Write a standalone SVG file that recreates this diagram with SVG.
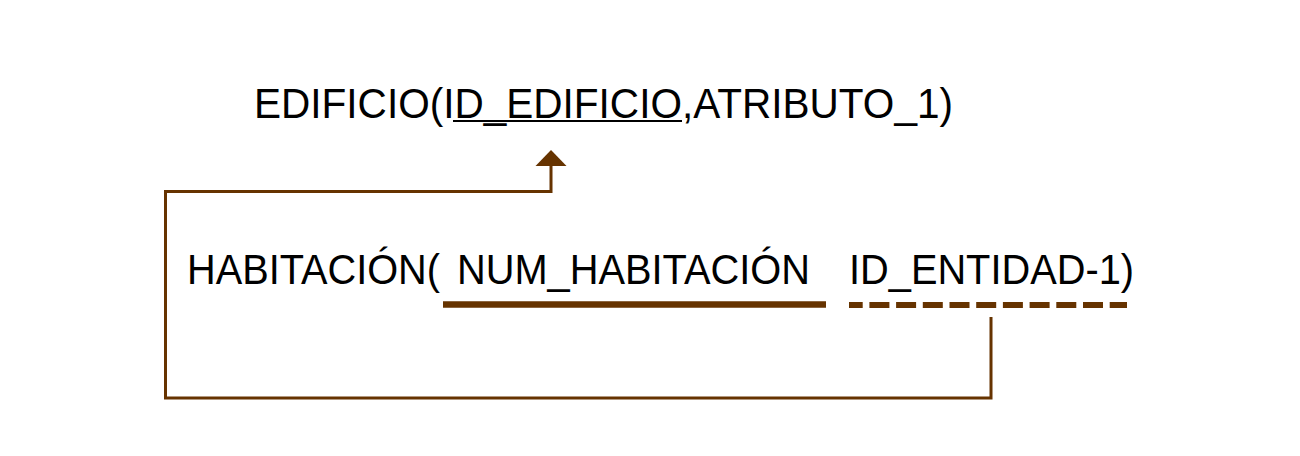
<svg xmlns="http://www.w3.org/2000/svg" width="1300" height="456" viewBox="0 0 1300 456">
<style>
.t{font-family:"Liberation Sans",Arial,sans-serif;font-size:43px;fill:#000}
.c{fill:none;stroke:#663300;stroke-width:3}
</style>
<rect width="1300" height="456" fill="#fff"/>
<g id="edificio">
<text class="t" x="254" y="117.5" textLength="699" lengthAdjust="spacingAndGlyphs">EDIFICIO(ID_EDIFICIO,ATRIBUTO_1)</text>
<line x1="453" y1="121" x2="682" y2="121" stroke="#000" stroke-width="2"/>
</g>
<g id="habitacion">
<text class="t" x="187" y="283.5" textLength="253" lengthAdjust="spacingAndGlyphs">HABITACIÓN(</text>
<text class="t" x="457" y="283.5" textLength="353" lengthAdjust="spacingAndGlyphs">NUM_HABITACIÓN</text>
<text class="t" x="849" y="283.5" textLength="285" lengthAdjust="spacingAndGlyphs">ID_ENTIDAD-1)</text>
<line x1="443" y1="304.5" x2="826" y2="304.5" stroke="#663300" stroke-width="6.5"/>
<line x1="849" y1="305" x2="1127" y2="305" stroke="#663300" stroke-width="6" stroke-dasharray="20 6.7" stroke-dashoffset="6.3"/>
</g>
<g id="connectors">
<path class="c" d="M991 317 V398 H165.5 V191.5 H551 V164"/>
<polygon points="551,150 535.5,166 566.5,166" fill="#663300"/>
</g>
</svg>
